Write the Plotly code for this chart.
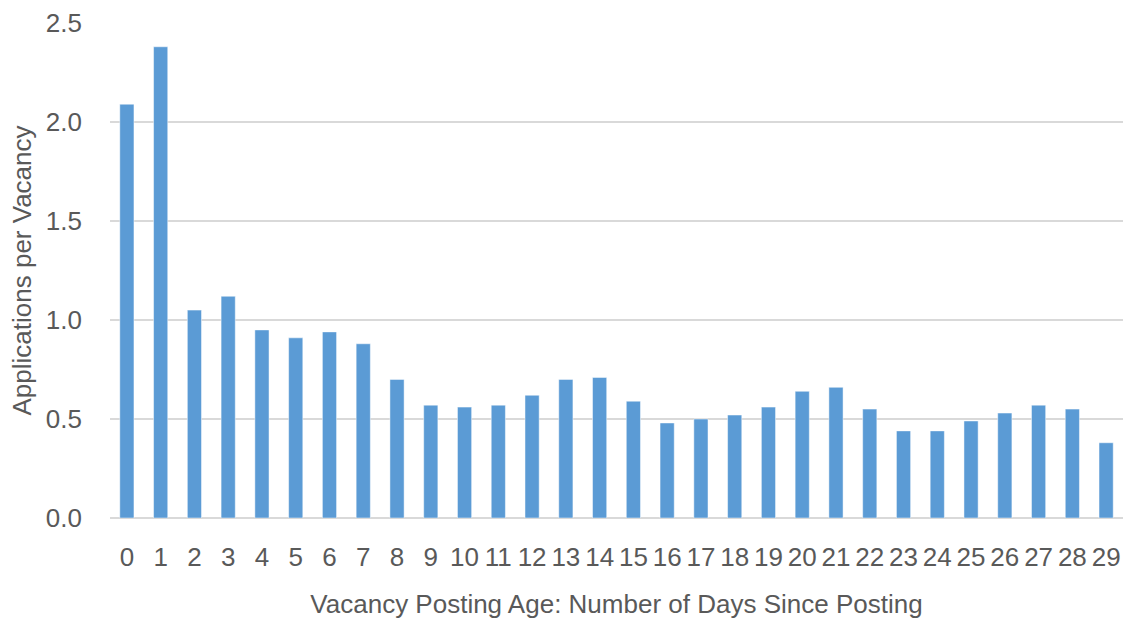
import plotly.graph_objects as go

days = [str(i) for i in range(30)]
applications = [2.09, 2.38, 1.05, 1.12, 0.95, 0.91, 0.94, 0.88, 0.70, 0.57,
                0.56, 0.57, 0.62, 0.70, 0.71, 0.59, 0.48, 0.50, 0.52, 0.56,
                0.64, 0.66, 0.55, 0.44, 0.44, 0.49, 0.53, 0.57, 0.55, 0.38]
y_ticks = [0, 0.5, 1.0, 1.5, 2.0, 2.5]
y_tick_labels = ["0.0", "0.5", "1.0", "1.5", "2.0", "2.5"]

font_family = "Liberation Sans"
grey = "#595959"
fs = 26

fig = go.Figure(go.Bar(
    x=days, y=applications,
    marker=dict(color="#5B9BD5", line=dict(color="rgba(255,255,255,0.6)", width=0.8)),
))

fig.update_layout(
    width=1126, height=619,
    margin=dict(l=110, r=3, t=23, b=101),
    paper_bgcolor="white", plot_bgcolor="white",
    bargap=0.58,
    showlegend=False,
    font=dict(family=font_family, color=grey, size=fs),
)
fig.update_xaxes(
    type="category",
    tickfont=dict(size=fs, color=grey),
    ticklabelstandoff=21,
    showgrid=False, showline=False, ticks="",
    title=dict(text="Vacancy Posting Age: Number of Days Since Posting",
               font=dict(size=fs, color=grey), standoff=25),
)
fig.update_yaxes(
    range=[0, 2.5001],
    tickvals=y_ticks, ticktext=y_tick_labels,
    tickfont=dict(size=fs, color=grey),
    ticklabelstandoff=27,
    showgrid=True, gridcolor="#D9D9D9", gridwidth=1.5,
    zeroline=True, zerolinecolor="#D9D9D9", zerolinewidth=1.5,
    showline=False, ticks="",
    title=dict(text="Applications per Vacancy", font=dict(size=fs, color=grey), standoff=6),
)

fig.write_html("out.html",
               config={"displayModeBar": False},
               post_script="document.body.style.margin='0';document.body.style.overflow='hidden';")
